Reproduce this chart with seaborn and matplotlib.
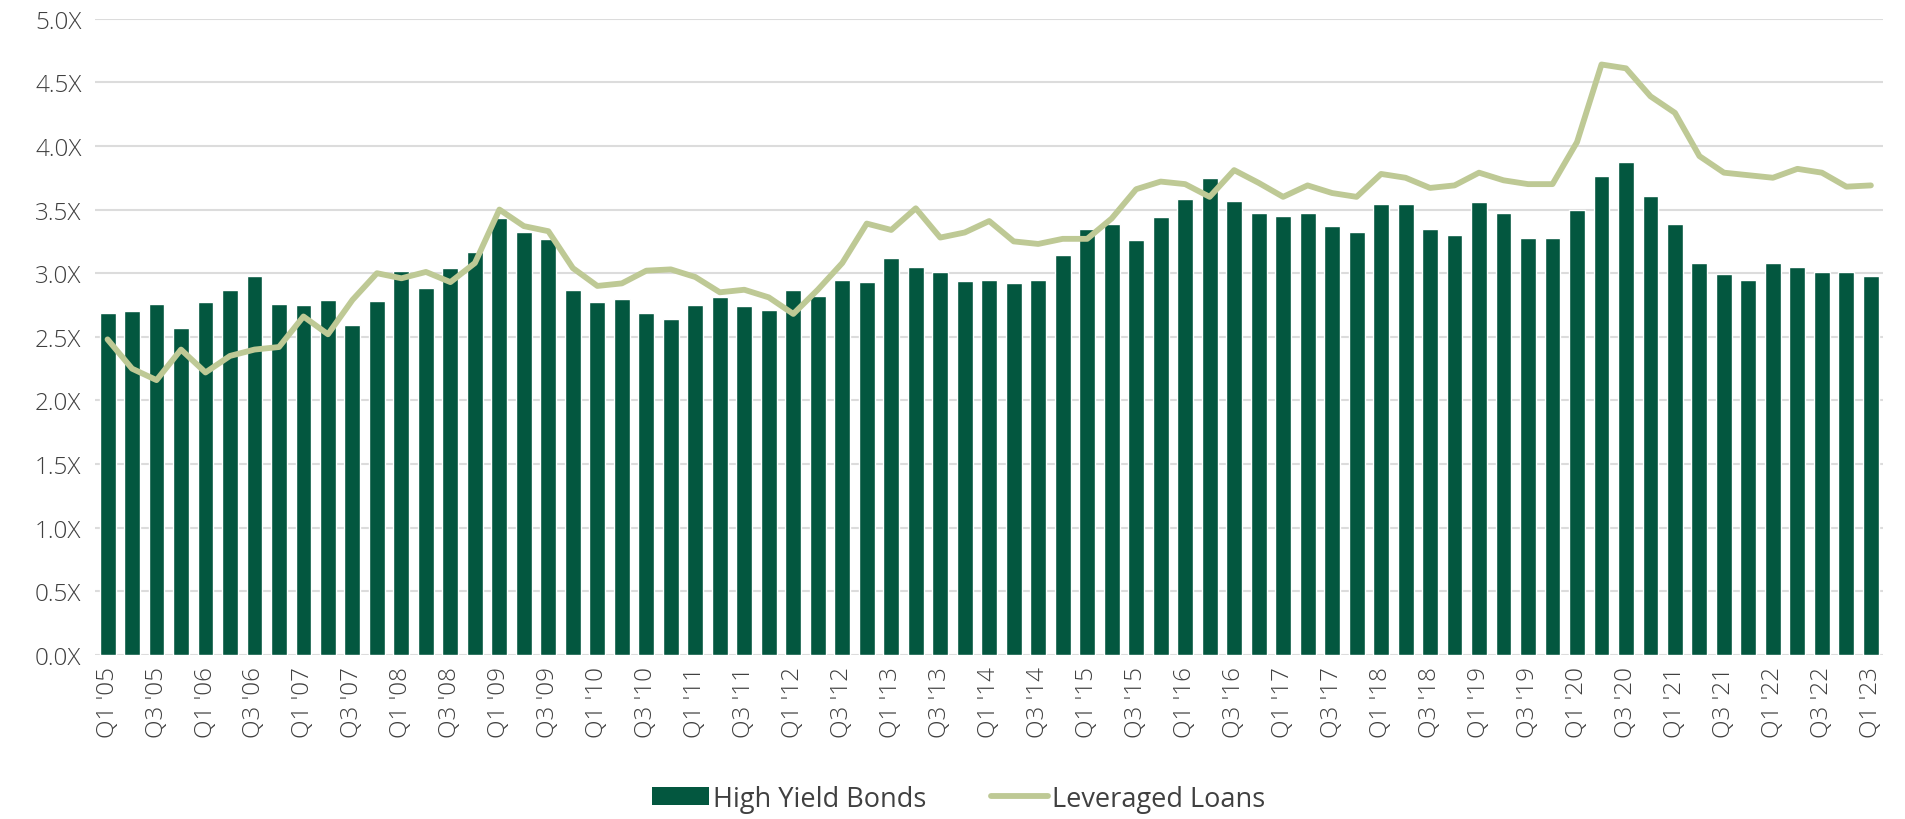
import numpy as np
import pandas as pd
import matplotlib
matplotlib.use("Agg")
import matplotlib.pyplot as plt
import seaborn as sns
from matplotlib.patches import Patch
from matplotlib.lines import Line2D

years = list(range(2005, 2024))
quarters = [f"Q{q} '{y % 100:02d}" for y in years for q in (1, 2, 3, 4)][:73]

high_yield = [2.69, 2.70, 2.76, 2.57, 2.77, 2.87, 2.98, 2.76, 2.75, 2.79, 2.59, 2.78,
              3.02, 2.88, 3.04, 3.17, 3.43, 3.32, 3.27, 2.87, 2.77, 2.80, 2.69, 2.64,
              2.75, 2.81, 2.74, 2.71, 2.87, 2.82, 2.95, 2.93, 3.12, 3.05, 3.01, 2.94,
              2.95, 2.92, 2.95, 3.14, 3.35, 3.39, 3.26, 3.44, 3.58, 3.75, 3.57, 3.47,
              3.45, 3.47, 3.37, 3.32, 3.54, 3.54, 3.35, 3.30, 3.56, 3.47, 3.28, 3.28,
              3.50, 3.76, 3.87, 3.61, 3.39, 3.08, 2.99, 2.95, 3.08, 3.05, 3.01, 3.01,
              2.98]

leveraged_loans = [2.48, 2.25, 2.16, 2.40, 2.22, 2.35, 2.40, 2.42, 2.66, 2.52, 2.79, 3.00,
                   2.96, 3.01, 2.93, 3.08, 3.50, 3.37, 3.33, 3.04, 2.90, 2.92, 3.02, 3.03,
                   2.97, 2.85, 2.87, 2.81, 2.68, 2.87, 3.08, 3.39, 3.34, 3.51, 3.28, 3.32,
                   3.41, 3.25, 3.23, 3.27, 3.27, 3.43, 3.66, 3.72, 3.70, 3.60, 3.81, 3.71,
                   3.60, 3.69, 3.63, 3.60, 3.78, 3.75, 3.67, 3.69, 3.79, 3.73, 3.70, 3.70,
                   4.03, 4.64, 4.61, 4.39, 4.26, 3.92, 3.79, 3.77, 3.75, 3.82, 3.79, 3.68,
                   3.69]

y_ticks = [0.0, 0.5, 1.0, 1.5, 2.0, 2.5, 3.0, 3.5, 4.0, 4.5, 5.0]
series_names = ["High Yield Bonds", "Leveraged Loans"]

BAR_COLOR = "#03573F"
LINE_COLOR = "#BEC995"
TEXT_COLOR = "#404040"
GRID_COLOR = "#DCDCDC"

df = pd.DataFrame({"quarter": quarters, "hy": high_yield, "ll": leveraged_loans})

sns.set_theme(style="white")
plt.rcParams["font.family"] = ["Open Sans", "DejaVu Sans"]

fig = plt.figure(figsize=(19.06, 8.20), dpi=100)
ax = fig.add_axes([0.050, 0.200, 0.938, 0.776])

sns.barplot(data=df, x="quarter", y="hy", order=quarters, color=BAR_COLOR,
            saturation=1, width=0.65, ax=ax, zorder=2)
sns.lineplot(data=df, x="quarter", y="ll", sort=False, color=LINE_COLOR,
             linewidth=4.2, ax=ax, zorder=3)

ax.set_xlim(-0.5, len(quarters) - 0.5)
ax.set_ylim(0, 5.0)
ax.set_yticks(y_ticks)
ax.set_yticklabels([f"{v:.1f}X" for v in y_ticks], color=TEXT_COLOR,
                   fontsize=17.5, fontweight="light")
ax.yaxis.grid(True, color=GRID_COLOR, linewidth=1.5, zorder=0)
ax.set_axisbelow(True)

xt = list(range(0, len(quarters), 2))
ax.set_xticks(xt)
ax.set_xticklabels([quarters[i] for i in xt], rotation=90, color=TEXT_COLOR,
                   fontsize=17.5, fontweight="light")
ax.tick_params(axis="both", length=0)
ax.tick_params(axis="x", pad=8)
ax.tick_params(axis="y", pad=10)
ax.set_xlabel("")
ax.set_ylabel("")
for s in ax.spines.values():
    s.set_visible(False)

handles = [Patch(facecolor=BAR_COLOR, edgecolor="none", label=series_names[0]),
           Line2D([0], [0], color=LINE_COLOR, linewidth=4.2, solid_capstyle="round",
                  label=series_names[1])]
leg = fig.legend(handles=handles, loc="lower center", bbox_to_anchor=(0.503, -0.022),
                 ncol=2, frameon=False, fontsize=19.5, handlelength=2.1,
                 handleheight=0.65, columnspacing=2.4, handletextpad=0.15)
for t in leg.get_texts():
    t.set_color(TEXT_COLOR)

fig.savefig("out.png", dpi=100)
